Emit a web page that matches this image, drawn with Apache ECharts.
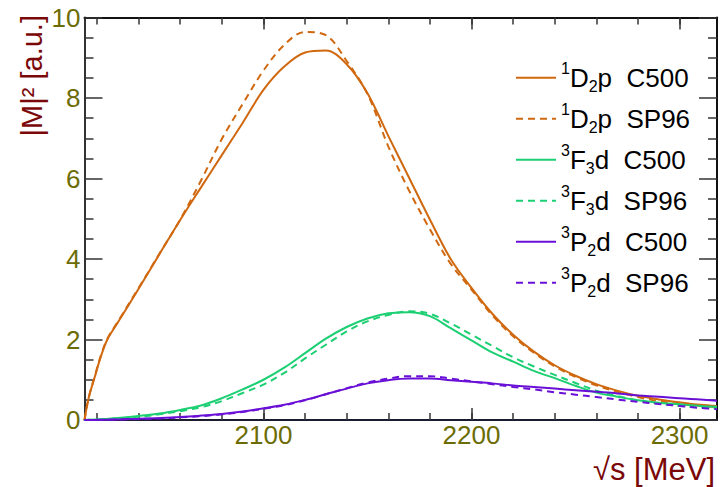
<!DOCTYPE html>
<html>
<head>
<meta charset="utf-8">
<script src="https://cdn.jsdelivr.net/npm/echarts@6/dist/echarts.min.js"></script>
<style>
html,body{margin:0;padding:0;background:#fff;}
#c{width:721px;height:487px;}
</style>
</head>
<body>
<div id="c"></div>
<script>
// ---- data ----
const sqrtS = [2014, 2016, 2019, 2022, 2025, 2030, 2040, 2050, 2060, 2070, 2080, 2090, 2100, 2110, 2120, 2130, 2140, 2150, 2160, 2170, 2180, 2190, 2200, 2210, 2220, 2230, 2240, 2250, 2260, 2270, 2280, 2290, 2300, 2310, 2318];
const d1D2pC500 = [0, 0.55, 1.08, 1.6, 2.0, 2.42, 3.26, 4.12, 4.97, 5.78, 6.58, 7.38, 8.2, 8.78, 9.13, 9.18, 8.84, 8.12, 7.06, 6.02, 4.98, 4.0, 3.28, 2.64, 2.12, 1.70, 1.36, 1.10, 0.89, 0.73, 0.60, 0.51, 0.44, 0.38, 0.35];
const d1D2pSP96 = [0, 0.55, 1.1, 1.62, 2.02, 2.44, 3.28, 4.13, 4.98, 5.95, 6.98, 7.85, 8.68, 9.32, 9.64, 9.56, 8.92, 8.1, 6.8, 5.7, 4.74, 3.88, 3.24, 2.6, 2.08, 1.67, 1.33, 1.07, 0.86, 0.70, 0.57, 0.47, 0.40, 0.35, 0.32];
const d3F3dC500 = [0, 0.005, 0.01, 0.02, 0.03, 0.05, 0.1, 0.16, 0.25, 0.36, 0.54, 0.76, 1.0, 1.3, 1.66, 2.02, 2.31, 2.52, 2.65, 2.68, 2.58, 2.28, 1.98, 1.68, 1.45, 1.22, 1.04, 0.85, 0.68, 0.58, 0.49, 0.43, 0.39, 0.35, 0.33];
const d3F3dSP96 = [0, 0.004, 0.01, 0.015, 0.02, 0.04, 0.08, 0.14, 0.22, 0.32, 0.47, 0.67, 0.88, 1.17, 1.53, 1.87, 2.20, 2.45, 2.61, 2.70, 2.64, 2.40, 2.12, 1.84, 1.56, 1.33, 1.12, 0.92, 0.73, 0.60, 0.49, 0.41, 0.35, 0.31, 0.29];
const d3P2dC500 = [0, 0, 0.002, 0.005, 0.008, 0.015, 0.03, 0.05, 0.075, 0.11, 0.15, 0.21, 0.29, 0.38, 0.5, 0.64, 0.78, 0.91, 0.99, 1.03, 1.03, 0.99, 0.95, 0.91, 0.86, 0.82, 0.78, 0.74, 0.70, 0.66, 0.61, 0.58, 0.54, 0.51, 0.48];
const d3P2dSP96 = [0, 0, 0.001, 0.003, 0.006, 0.012, 0.025, 0.04, 0.065, 0.095, 0.14, 0.2, 0.28, 0.37, 0.49, 0.64, 0.79, 0.93, 1.03, 1.09, 1.09, 1.03, 0.96, 0.89, 0.82, 0.76, 0.69, 0.63, 0.57, 0.51, 0.45, 0.40, 0.35, 0.30, 0.27];

const seriesNames = ['1D2p C500', '1D2p SP96', '3F3d C500', '3F3d SP96', '3P2d C500', '3P2d SP96'];
const legendLabels = [
  '{sup|1}{n|D}{sub|2}{n|p  C500}',
  '{sup|1}{n|D}{sub|2}{n|p  SP96}',
  '{sup|3}{n|F}{sub|3}{n|d  C500}',
  '{sup|3}{n|F}{sub|3}{n|d  SP96}',
  '{sup|3}{n|P}{sub|2}{n|d  C500}',
  '{sup|3}{n|P}{sub|2}{n|d  SP96}'
];
const xMin = 2014, xMax = 2318;
const xMajorTicks = [2100, 2200, 2300];
const xMinorTicks = [2020, 2040, 2060, 2080, 2100, 2120, 2140, 2160, 2180, 2200, 2220, 2240, 2260, 2280, 2300];
const yMin = 0, yMax = 10, yStep = 2;
const xTitle = '√s [MeV]';
const yTitle = '|M|² [a.u.]';

// ---- styling ----
const FONT = '"Liberation Sans", Arial, Helvetica, sans-serif';
const OLIVE = '#6c6c05';
const DARKRED = '#7a0808';
const ORANGE = '#d0680f';
const GREEN = '#1ccf72';
const PURPLE = '#6a10d6';
function tick() { return { color: '#333', width: 1.5 }; }
const seriesData = [d1D2pC500, d1D2pSP96, d3F3dC500, d3F3dSP96, d3P2dC500, d3P2dSP96];
const colors = [ORANGE, ORANGE, GREEN, GREEN, PURPLE, PURPLE];
const dashed = [false, true, false, true, false, true];

const series = seriesData.map((ys, k) => ({
  type: 'line', name: seriesNames[k],
  xAxisIndex: 0, yAxisIndex: 0,
  data: sqrtS.map((x, i) => [x, ys[i]]),
  symbol: 'none', smooth: 0.35, silent: true, z: 3,
  lineStyle: { color: colors[k], width: 2, type: dashed[k] ? [7, 5] : 'solid' },
  itemStyle: { color: colors[k] }
}));

function xDef(pos, showLine, lineColor, ticks, len, labels) {
  return {
    type: 'value', min: xMin, max: xMax, gridIndex: 0, position: pos,
    splitLine: { show: false },
    axisLine: { show: showLine, onZero: false, lineStyle: { color: lineColor, width: 2 } },
    axisTick: { show: true, inside: true, length: len, customValues: ticks, lineStyle: tick() },
    axisLabel: labels ? { show: true, customValues: ticks, color: OLIVE, fontSize: 26, fontFamily: FONT, margin: 2, formatter: function (v) { return String(v); } } : { show: false }
  };
}
function yDef(pos, lineColor, labels) {
  return {
    type: 'value', min: yMin, max: yMax, interval: yStep, position: pos,
    splitLine: { show: false },
    axisLine: { show: true, onZero: false, lineStyle: { color: lineColor, width: 2 } },
    axisTick: { show: true, inside: true, length: 18, lineStyle: tick() },
    minorTick: { show: true, splitNumber: 4, length: 9, lineStyle: tick() },
    axisLabel: labels ? { color: OLIVE, fontSize: 26, fontFamily: FONT, margin: 4 } : { show: false }
  };
}

const option = {
  animation: false,
  backgroundColor: '#fff',
  grid: { left: 84.5, top: 17.5, width: 632.5, height: 402.5 },
  xAxis: [
    xDef('bottom', true, '#1c1c30', xMajorTicks, 12, true),
    xDef('bottom', false, '#1c1c30', xMinorTicks, 7, false),
    xDef('top', true, '#111', xMajorTicks, 12, false),
    xDef('top', false, '#111', xMinorTicks, 7, false)
  ],
  yAxis: [yDef('left', '#333', true), yDef('right', '#111', false)],
  legend: {
    orient: 'vertical', left: 510, top: 55.7, itemWidth: 40, itemHeight: 34, itemGap: 7,
    selectedMode: false, data: seriesNames,
    itemStyle: { opacity: 0 },
    formatter: function (name) { return legendLabels[seriesNames.indexOf(name)]; },
    textStyle: {
      fontFamily: FONT, color: '#000',
      rich: {
        n: { fontSize: 26, fontFamily: FONT, color: '#000', lineHeight: 34 },
        sup: { fontSize: 16, fontFamily: FONT, color: '#000', lineHeight: 24, verticalAlign: 'top' },
        sub: { fontSize: 16, fontFamily: FONT, color: '#000', lineHeight: 12, verticalAlign: 'bottom' }
      }
    }
  },
  graphic: [
    { type: 'text', x: 715, y: 469, silent: true,
      style: { text: xTitle, fill: DARKRED, font: '31px ' + FONT, align: 'right', verticalAlign: 'middle' } },
    { type: 'text', x: 32, y: 15, rotation: Math.PI / 2, silent: true,
      style: { text: yTitle, fill: DARKRED, font: '29px ' + FONT, align: 'right', verticalAlign: 'middle' } }
  ],
  series: series
};

const chart = echarts.init(document.getElementById('c'), null, { renderer: 'svg' });
chart.setOption(option);
</script>
</body>
</html>
